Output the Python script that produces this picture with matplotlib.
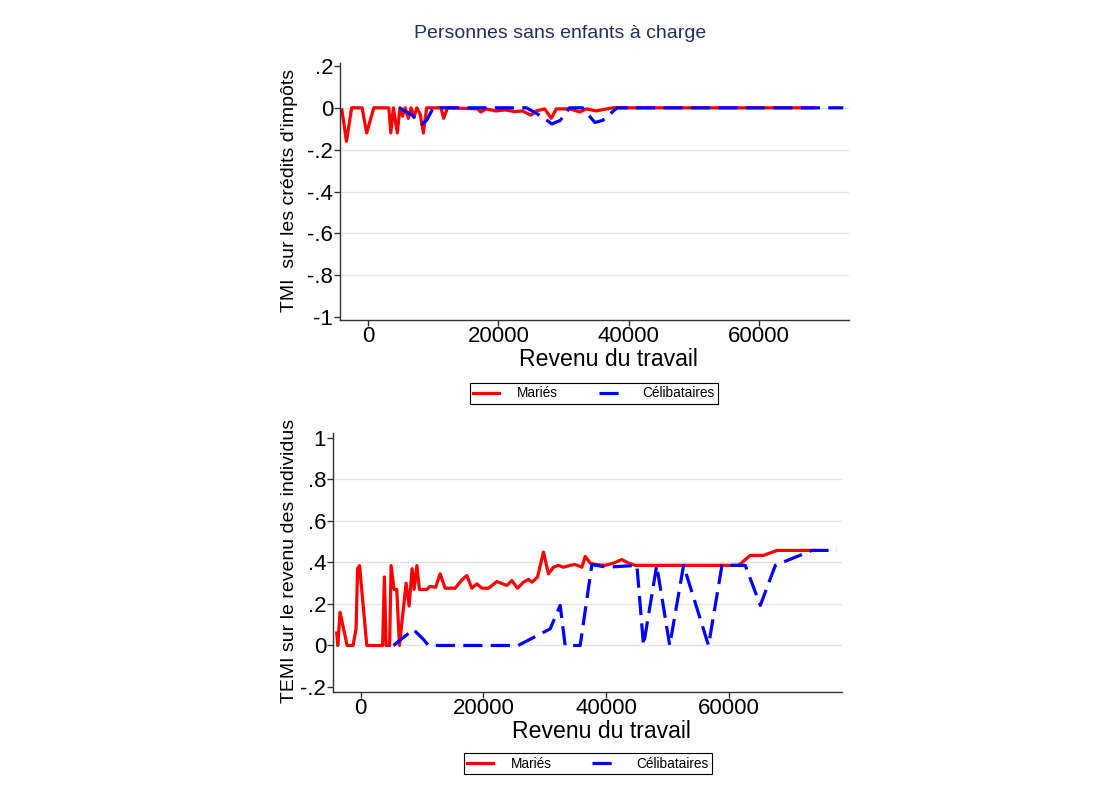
import numpy as np
import matplotlib
matplotlib.use("Agg")
import matplotlib.pyplot as plt

plt.rcParams['font.family'] = ['Liberation Sans', 'DejaVu Sans']

# Haut : TMI sur les crédits d'impôts (revenu en milliers)
mar_x_top = [-4.0, -3.3, -2.5, -0.9, -0.2, 0.9, 3.2, 3.5, 3.9, 4.5, 4.9, 5.3, 5.7, 6.2,
             6.6, 7.1, 7.5, 8.0, 8.5, 9.0, 11.2, 11.6, 12.2, 16.8, 17.3, 18.1, 19.6,
             21.0, 22.5, 23.7, 25.0, 25.8, 27.1, 28.1, 28.9, 30.9, 32.5, 33.5, 35.0,
             36.6, 37.6, 68.3]
mar_y_top = [-0.01, -0.16, 0.0, 0.0, -0.12, 0.0, 0.0, -0.12, 0.0, -0.12, 0.0, -0.04, 0.0, -0.05,
             0.0, -0.04, 0.0, -0.03, -0.12, 0.0, 0.0, -0.05, 0.0, -0.005, -0.02, -0.005, -0.015,
             -0.01, -0.018, -0.015, -0.035, -0.015, -0.005, -0.05, -0.005, -0.005, -0.02, -0.005, -0.015,
             -0.005, 0.0, 0.0]
cel_x_top = [4.8, 6.8, 7.6, 8.3, 9.0, 10.0, 24.3, 26.6, 28.2, 29.5, 30.9, 32.9, 34.8, 36.0, 38.2, 72.9]
cel_y_top = [0.0, -0.035, -0.065, -0.077, -0.06, 0.0, 0.0, -0.04, -0.077, -0.06, 0.0, 0.0, -0.07, -0.06, 0.0, 0.0]

# Bas : TEMI sur le revenu des individus
mar_x_bot = [-3.92, -3.75, -3.38, -2.23, -1.26, -0.77, -0.52, -0.2, 0.98, 3.56, 3.85, 4.13, 4.7,
             4.94, 5.43, 5.87, 6.3, 7.39, 7.88, 8.37, 8.7, 9.14, 9.56, 10.77, 11.3, 12.2, 12.94,
             13.75, 15.38, 16.48, 17.29, 18.11, 18.92, 19.74, 20.82, 22.19, 23.82, 24.63, 25.55,
             26.53, 27.34, 27.9, 28.81, 29.79, 30.6, 31.42, 32.23, 33.05, 34.14, 34.96, 36.05,
             36.59, 37.41, 38.22, 39.85, 41.21, 42.58, 43.65, 44.75, 61.6, 63.51, 65.68, 67.86, 74.1]
mar_y_bot = [0.06, 0.0, 0.16, 0.0, 0.0, 0.08, 0.37, 0.385, 0.0, 0.0, 0.33, 0.0, 0.0,
             0.385, 0.27, 0.27, 0.0, 0.3, 0.19, 0.37, 0.27, 0.385, 0.27, 0.27, 0.285, 0.28, 0.345,
             0.276, 0.276, 0.316, 0.337, 0.276, 0.297, 0.276, 0.276, 0.308, 0.289, 0.313, 0.276,
             0.305, 0.318, 0.305, 0.329, 0.45, 0.345, 0.377, 0.386, 0.377, 0.386, 0.39, 0.377,
             0.429, 0.397, 0.39, 0.386, 0.397, 0.414, 0.397, 0.386, 0.386, 0.434, 0.434, 0.458, 0.458]
cel_x_bot = [5.32, 8.58, 10.2, 11.03, 25.66, 30.88, 32.51, 33.32, 35.77, 37.68, 40.13, 45.02,
             46.1, 48.25, 50.37, 52.63, 56.7, 58.89, 62.69, 65.14, 67.59, 73.57, 77.65]
cel_y_bot = [0.0, 0.077, 0.03, 0.0, 0.0, 0.08, 0.193, 0.0, 0.0, 0.39, 0.377, 0.386,
             0.0, 0.386, 0.0, 0.386, 0.0, 0.386, 0.386, 0.193, 0.386, 0.458, 0.458]

titre = "Personnes sans enfants à charge"
xlab = "Revenu du travail"
ylab_top = "TMI  sur les crédits d'impôts"
ylab_bot = "TEMI sur le revenu des individus"
noms = ["Mariés", "Célibataires"]
xticks = [0, 20000, 40000, 60000]
yticks_top = [-1, -0.8, -0.6, -0.4, -0.2, 0, 0.2]
yticks_bot = [-0.2, 0, 0.2, 0.4, 0.6, 0.8, 1]

ROUGE = "#ff0000"
BLEU = "#0000ff"
W, H = 1101, 802


def fmt(v):
    s = f"{v:g}"
    return s.replace("0.", ".")


def panneau(ax, mx, my, cx, cy, yticks, xlim, ylim):
    for y in yticks[1:-1]:
        ax.axhline(y, color="#e6e6e6", lw=1.0, zorder=0)
    ax.plot(np.array(mx) * 1000, my, color=ROUGE, lw=2.3, label=noms[0], zorder=2)
    ax.plot(np.array(cx) * 1000, cy, color=BLEU, lw=2.3, dashes=(6, 2.6),
            label=noms[1], zorder=3)
    ax.set_xlim(*xlim)
    ax.set_ylim(*ylim)
    ax.set_xticks(xticks)
    ax.set_xticklabels([str(t) for t in xticks])
    ax.set_yticks(yticks)
    ax.set_yticklabels([fmt(t) for t in yticks])
    for s in ["top", "right"]:
        ax.spines[s].set_visible(False)
    for s in ["left", "bottom"]:
        ax.spines[s].set_color("#333333")
        ax.spines[s].set_linewidth(1.0)
    ax.tick_params(axis="both", labelsize=16, length=4, width=1, color="#333333", pad=1)
    ax.tick_params(axis="x", pad=0.5)


fig = plt.figure(figsize=(W / 100, H / 100), dpi=100)

ax1 = fig.add_axes([0.3088, 0.601, 0.4623, 0.3204])
panneau(ax1, mar_x_top, mar_y_top, cel_x_top, cel_y_top, yticks_top,
        (-4290, 73770), (-1.014, 0.214))

ax2 = fig.add_axes([0.3025, 0.1372, 0.4623, 0.323])
panneau(ax2, mar_x_bot, mar_y_bot, cel_x_bot, cel_y_bot, yticks_bot,
        (-4520, 78470), (-0.224, 1.024))

# titres des axes
fig.text(608.5 / W, 1 - 359 / H, xlab, ha="center", va="center", fontsize=16.6)
fig.text(601 / W, 1 - 732 / H, xlab, ha="center", va="center", fontsize=16.6)
fig.text(289 / W, 1 - 190 / H, ylab_top, ha="center", va="center", rotation=90, fontsize=14)
fig.text(289 / W, 1 - 561 / H, ylab_bot, ha="center", va="center", rotation=90, fontsize=14)

for ax, cx, cy in [(ax1, 594, 393.5), (ax2, 587.5, 763.5)]:
    leg = ax.legend(loc="center", bbox_to_anchor=(cx / W, 1 - cy / H),
                    bbox_transform=fig.transFigure, ncol=2, fontsize=9.8,
                    frameon=True, fancybox=False, framealpha=1, edgecolor="black",
                    handlelength=1.9, handletextpad=1.3, columnspacing=3.0,
                    borderpad=0.25, borderaxespad=0)
    leg.get_frame().set_linewidth(0.8)

fig.text(560 / W, 1 - 33 / H, titre, ha="center", va="center",
         fontsize=14, color="#1f3060")

fig.savefig("out.png", dpi=100)
